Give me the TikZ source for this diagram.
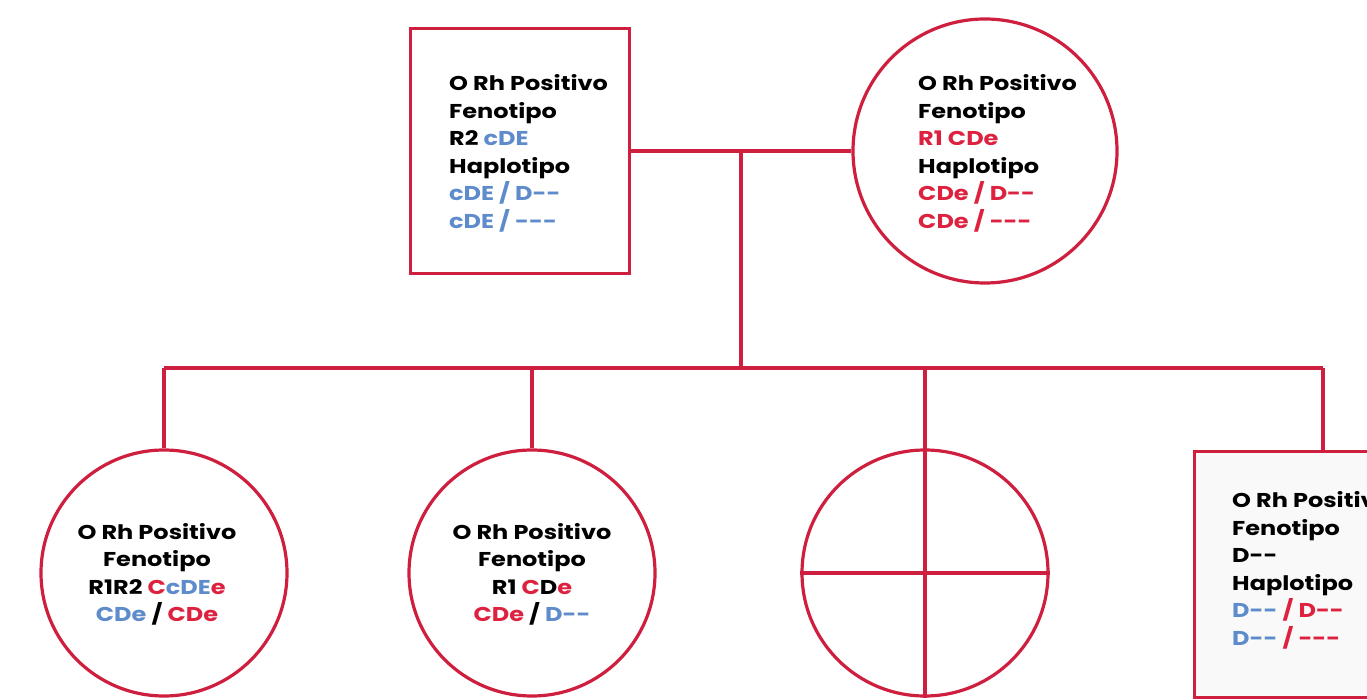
\documentclass[tikz,border=0pt]{standalone}
\usepackage{fontspec}
\setmainfont{Poppins}[Ligatures=TeXOff, FakeStretch=1.2]
\definecolor{lr}{HTML}{CF1F3F}
\definecolor{tr}{HTML}{DD2240}
\definecolor{tb}{HTML}{5E8BCB}
\definecolor{gbg}{HTML}{F9F9F9}
\newcommand{\R}[1]{\textcolor{tr}{#1}}
\newcommand{\B}[1]{\textcolor{tb}{#1}}
\tikzset{
  ln/.style={draw=lr, line width=3.2pt},
  person/.style={ln, fill=white},
  txt/.style={inner sep=0pt, font=\fontsize{20}{27.5}\selectfont\bfseries},
}
\begin{document}
\begin{tikzpicture}[x=1pt,y=-1pt]
\useasboundingbox (0,0) rectangle (1367,700);
% parents
\node[person, rectangle, minimum width=219pt, minimum height=245pt, anchor=north west] (father) at (409,27) {};
\node[person, circle, minimum size=264pt, inner sep=0pt] (mother) at (985,151) {};
\coordinate (mid) at (741,151);
\coordinate (bar) at (741,368);
\draw[ln] (father.east |- mid) -- (mother.west);
\draw[ln] (mid) -- (bar);
% children
\node[person, circle, minimum size=246pt, inner sep=0pt] (c1) at (164,573) {};
\node[person, circle, minimum size=246pt, inner sep=0pt] (c2) at (532,573) {};
\node[person, circle, minimum size=246pt, inner sep=0pt] (c3) at (925,573) {};
\node[ln, fill=gbg, rectangle, minimum width=240pt, minimum height=246pt, anchor=north west] (c4) at (1193,450) {};
\coordinate (b1) at (164,368);
\coordinate (b4) at (1323,368);
\draw[ln] (b1) -- (b4);
\draw[ln] (b1) -- (c1.north);
\draw[ln] (c2.north |- b1) -- (c2.north);
\draw[ln] (c3.north |- b1) -- (c3.south);
\draw[ln] (c3.west) -- (c3.east);
\draw[ln] (b4) -- (b4 |- c4.north);
% texts
\node[txt, anchor=base west] (tf) at (449,91) {\begin{tabular}[t]{@{}l@{}}O Rh Positivo\\ Fenotipo\\ R2 \B{cDE}\\ Haplotipo\\ \B{cDE / D--}\\ \B{cDE / ---}\end{tabular}};
\node[txt, anchor=base west] (tm) at (918,91) {\begin{tabular}[t]{@{}l@{}}O Rh Positivo\\ Fenotipo\\ \R{R1 CDe}\\ Haplotipo\\ \R{CDe / D--}\\ \R{CDe / ---}\end{tabular}};
\node[txt, anchor=base] (t1) at (157,539) {\begin{tabular}[t]{@{}c@{}}O Rh Positivo\\ Fenotipo\\ R1R2 \R{C}\B{cDE}\R{e}\\ \B{CDe} / \R{CDe}\end{tabular}};
\node[txt, anchor=base] (t2) at (532,539) {\begin{tabular}[t]{@{}c@{}}O Rh Positivo\\ Fenotipo\\ R1 \R{C}D\R{e}\\ \R{CDe} / \B{D--}\end{tabular}};
\node[txt, anchor=base west] (t4) at (1232,507.5) {\begin{tabular}[t]{@{}l@{}}O Rh Positivo\\ Fenotipo\\ D--\\ Haplotipo\\ \B{D--} \R{/ D--}\\ \B{D--} \R{/ ---}\end{tabular}};
\end{tikzpicture}
\end{document}
